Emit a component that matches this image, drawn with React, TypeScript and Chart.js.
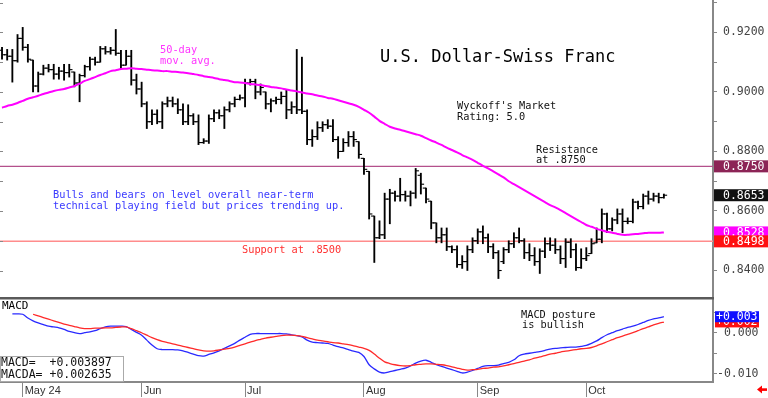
import React, { useEffect, useRef } from 'react';
import { Chart, registerables } from 'chart.js';

Chart.register(...registerables);

const MONO = '"DejaVu Sans Mono", monospace';
const SANS = '"Liberation Sans", Arial, sans-serif';

// ---- OHLC (daily bars, index 0 = late April 2024) ----
const highs = [
  0.9150, 0.9143, 0.9143, 0.9193, 0.9217, 0.9160, 0.9107, 0.9067, 0.9090, 0.9093,
  0.9093, 0.9083, 0.9093, 0.9093, 0.9067, 0.9060, 0.9090, 0.9117, 0.9117, 0.9153,
  0.9153, 0.9150, 0.9210, 0.9140, 0.9140, 0.9140, 0.9060, 0.9033, 0.8967, 0.8940,
  0.8940, 0.8967, 0.8983, 0.8983, 0.8977, 0.8960, 0.8957, 0.8927, 0.8923, 0.8843,
  0.8923, 0.8940, 0.8940, 0.8950, 0.8967, 0.8983, 0.8990, 0.9043, 0.9043, 0.9043,
  0.9027, 0.9000, 0.8977, 0.8983, 0.9000, 0.9007, 0.8967, 0.9143, 0.9117, 0.8940,
  0.8873, 0.8900, 0.8900, 0.8907, 0.8907, 0.8850, 0.8843, 0.8867, 0.8867, 0.8833,
  0.8777, 0.8733, 0.8583, 0.8567, 0.8660, 0.8673, 0.8667, 0.8710, 0.8667, 0.8667,
  0.8743, 0.8727, 0.8677, 0.8633, 0.8560, 0.8543, 0.8543, 0.8483, 0.8483, 0.8450,
  0.8483, 0.8510, 0.8540, 0.8550, 0.8523, 0.8490, 0.8467, 0.8477, 0.8500, 0.8527,
  0.8543, 0.8507, 0.8490, 0.8477, 0.8473, 0.8510, 0.8510, 0.8507, 0.8483, 0.8507,
  0.8507, 0.8490, 0.8473, 0.8477, 0.8507, 0.8543, 0.8607, 0.8593, 0.8577, 0.8607,
  0.8607, 0.8577, 0.8640, 0.8633, 0.8657, 0.8667, 0.8660, 0.8660, 0.8657,
];
const lows = [
  0.9110, 0.9107, 0.9033, 0.9100, 0.9140, 0.9100, 0.9000, 0.9000, 0.9057, 0.9067,
  0.9043, 0.9043, 0.9040, 0.9050, 0.9017, 0.8967, 0.9050, 0.9073, 0.9090, 0.9100,
  0.9127, 0.9127, 0.9123, 0.9077, 0.9090, 0.9023, 0.8993, 0.8950, 0.8877, 0.8890,
  0.8893, 0.8877, 0.8950, 0.8950, 0.8927, 0.8890, 0.8890, 0.8890, 0.8823, 0.8827,
  0.8827, 0.8900, 0.8910, 0.8877, 0.8933, 0.8950, 0.8973, 0.8950, 0.9023, 0.8977,
  0.8990, 0.8943, 0.8933, 0.8960, 0.8960, 0.8910, 0.8927, 0.8927, 0.8927, 0.8823,
  0.8817, 0.8840, 0.8867, 0.8877, 0.8833, 0.8777, 0.8800, 0.8817, 0.8817, 0.8777,
  0.8723, 0.8573, 0.8427, 0.8507, 0.8507, 0.8557, 0.8633, 0.8633, 0.8633, 0.8617,
  0.8643, 0.8657, 0.8627, 0.8540, 0.8493, 0.8493, 0.8467, 0.8460, 0.8410, 0.8407,
  0.8400, 0.8460, 0.8490, 0.8490, 0.8460, 0.8440, 0.8373, 0.8423, 0.8460, 0.8477,
  0.8493, 0.8440, 0.8433, 0.8417, 0.8390, 0.8443, 0.8467, 0.8457, 0.8423, 0.8410,
  0.8443, 0.8400, 0.8407, 0.8433, 0.8457, 0.8493, 0.8493, 0.8527, 0.8533, 0.8557,
  0.8527, 0.8557, 0.8560, 0.8607, 0.8607, 0.8623, 0.8633, 0.8627, 0.8643,
];
const opens = [
  0.9140, 0.9125, 0.9120, 0.9105, 0.9180, 0.9150, 0.9107, 0.9020, 0.9060, 0.9080,
  0.9075, 0.9060, 0.9070, 0.9065, 0.9067, 0.9030, 0.9055, 0.9085, 0.9110, 0.9100,
  0.9145, 0.9135, 0.9140, 0.9130, 0.9090, 0.9120, 0.9040, 0.9010, 0.8960, 0.8900,
  0.8925, 0.8900, 0.8960, 0.8970, 0.8960, 0.8940, 0.8900, 0.8920, 0.8900, 0.8830,
  0.8835, 0.8910, 0.8930, 0.8920, 0.8940, 0.8960, 0.8975, 0.8980, 0.9030, 0.9035,
  0.9000, 0.9000, 0.8960, 0.8970, 0.8975, 0.8985, 0.8940, 0.8950, 0.8940, 0.8935,
  0.8840, 0.8850, 0.8880, 0.8890, 0.8885, 0.8840, 0.8800, 0.8830, 0.8850, 0.8833,
  0.8777, 0.8733, 0.8583, 0.8510, 0.8520, 0.8640, 0.8660, 0.8650, 0.8655, 0.8650,
  0.8660, 0.8720, 0.8677, 0.8633, 0.8560, 0.8510, 0.8520, 0.8480, 0.8470, 0.8420,
  0.8430, 0.8470, 0.8500, 0.8530, 0.8510, 0.8480, 0.8460, 0.8430, 0.8470, 0.8490,
  0.8510, 0.8500, 0.8460, 0.8450, 0.8430, 0.8465, 0.8490, 0.8485, 0.8470, 0.8440,
  0.8495, 0.8470, 0.8410, 0.8440, 0.8457, 0.8493, 0.8505, 0.8590, 0.8540, 0.8570,
  0.8590, 0.8565, 0.8565, 0.8630, 0.8615, 0.8650, 0.8640, 0.8650, 0.8645,
];
const closes = [
  0.9125, 0.9120, 0.9105, 0.9180, 0.9150, 0.9110, 0.9020, 0.9060, 0.9080, 0.9075,
  0.9060, 0.9070, 0.9065, 0.9075, 0.9030, 0.9055, 0.9085, 0.9110, 0.9100, 0.9145,
  0.9135, 0.9140, 0.9130, 0.9090, 0.9120, 0.9040, 0.9010, 0.8960, 0.8900, 0.8925,
  0.8900, 0.8960, 0.8970, 0.8960, 0.8940, 0.8900, 0.8920, 0.8900, 0.8830, 0.8835,
  0.8910, 0.8930, 0.8920, 0.8940, 0.8960, 0.8975, 0.8980, 0.9030, 0.9035, 0.9000,
  0.9015, 0.8960, 0.8970, 0.8975, 0.8985, 0.8940, 0.8950, 0.8940, 0.8935, 0.8840,
  0.8850, 0.8880, 0.8890, 0.8885, 0.8840, 0.8800, 0.8830, 0.8850, 0.8840, 0.8790,
  0.8740, 0.8590, 0.8510, 0.8520, 0.8640, 0.8660, 0.8650, 0.8655, 0.8650, 0.8660,
  0.8735, 0.8690, 0.8640, 0.8560, 0.8510, 0.8520, 0.8480, 0.8470, 0.8420, 0.8430,
  0.8470, 0.8500, 0.8530, 0.8510, 0.8480, 0.8460, 0.8400, 0.8470, 0.8490, 0.8510,
  0.8500, 0.8460, 0.8450, 0.8430, 0.8465, 0.8490, 0.8485, 0.8470, 0.8440, 0.8495,
  0.8470, 0.8410, 0.8440, 0.8450, 0.8490, 0.8505, 0.8590, 0.8540, 0.8570, 0.8590,
  0.8565, 0.8565, 0.8630, 0.8615, 0.8650, 0.8640, 0.8650, 0.8645, 0.8653,
];

// ---- 50-day moving average ----
const ma50 = [
  0.8947, 0.8953, 0.8957, 0.8963, 0.8970, 0.8977, 0.8982, 0.8987, 0.8993, 0.8998,
  0.9003, 0.9007, 0.9010, 0.9015, 0.9020, 0.9028, 0.9037, 0.9043, 0.9050, 0.9057,
  0.9063, 0.9070, 0.9073, 0.9077, 0.9078, 0.9080, 0.9078, 0.9077, 0.9075, 0.9073,
  0.9072, 0.9070, 0.9070, 0.9068, 0.9067, 0.9065, 0.9063, 0.9060, 0.9057, 0.9053,
  0.9050, 0.9047, 0.9043, 0.9040, 0.9037, 0.9033, 0.9032, 0.9030, 0.9027, 0.9025,
  0.9023, 0.9020, 0.9017, 0.9015, 0.9012, 0.9008, 0.9005, 0.9002, 0.8998, 0.8995,
  0.8992, 0.8988, 0.8985, 0.8980, 0.8977, 0.8972, 0.8967, 0.8962, 0.8957, 0.8950,
  0.8940, 0.8930, 0.8917, 0.8903, 0.8893, 0.8883, 0.8877, 0.8873, 0.8868, 0.8863,
  0.8858, 0.8853, 0.8845, 0.8837, 0.8830, 0.8822, 0.8813, 0.8805, 0.8797, 0.8788,
  0.8780, 0.8772, 0.8762, 0.8752, 0.8743, 0.8733, 0.8723, 0.8713, 0.8700, 0.8690,
  0.8680, 0.8670, 0.8660, 0.8650, 0.8640, 0.8630, 0.8620, 0.8612, 0.8603, 0.8593,
  0.8583, 0.8573, 0.8563, 0.8553, 0.8547, 0.8540, 0.8535, 0.8530, 0.8527, 0.8523,
  0.8520, 0.8520, 0.8522, 0.8523, 0.8525, 0.8527, 0.8527, 0.8527, 0.8528,
];

// ---- MACD (blue) and MACDA signal (red) ----
const macdLine = [
  null, null, 0.0046, 0.0046, 0.0045, 0.0036, 0.0029, 0.0024, 0.0020, 0.0016,
  0.0014, 0.0012, 0.0008, 0.0003, 0.0000, -0.0002, 0.0000, 0.0002, 0.0005, 0.0010,
  0.0014, 0.0016, 0.0016, 0.0016, 0.0015, 0.0008, 0.0001, -0.0006, -0.0018, -0.0030,
  -0.0039, -0.0041, -0.0041, -0.0041, -0.0042, -0.0044, -0.0048, -0.0052, -0.0056, -0.0057,
  -0.0053, -0.0049, -0.0044, -0.0038, -0.0032, -0.0026, -0.0018, -0.0011, -0.0004, -0.0002,
  -0.0002, -0.0002, -0.0002, -0.0002, -0.0002, -0.0003, -0.0005, -0.0007, -0.0010, -0.0018,
  -0.0023, -0.0024, -0.0025, -0.0026, -0.0030, -0.0034, -0.0037, -0.0041, -0.0045, -0.0048,
  -0.0058, -0.0078, -0.0088, -0.0096, -0.0098, -0.0095, -0.0092, -0.0089, -0.0086, -0.0081,
  -0.0074, -0.0069, -0.0067, -0.0072, -0.0078, -0.0082, -0.0086, -0.0090, -0.0094, -0.0098,
  -0.0096, -0.0092, -0.0087, -0.0082, -0.0080, -0.0080, -0.0079, -0.0075, -0.0072, -0.0066,
  -0.0056, -0.0052, -0.0050, -0.0048, -0.0046, -0.0043, -0.0040, -0.0038, -0.0037, -0.0036,
  -0.0035, -0.0035, -0.0033, -0.0031, -0.0026, -0.0020, -0.0012, -0.0005, 0.0000, 0.0005,
  0.0009, 0.0013, 0.0016, 0.0020, 0.0025, 0.0030, 0.0034, 0.0036, 0.0039,
];
const macdSignal = [
  null, null, null, null, null, null, 0.0045, 0.0041, 0.0037, 0.0033,
  0.0029, 0.0025, 0.0021, 0.0018, 0.0015, 0.0012, 0.0010, 0.0010, 0.0011, 0.0011,
  0.0012, 0.0012, 0.0013, 0.0014, 0.0014, 0.0010, 0.0005, 0.0000, -0.0006, -0.0012,
  -0.0017, -0.0021, -0.0024, -0.0027, -0.0030, -0.0033, -0.0036, -0.0039, -0.0042, -0.0044,
  -0.0045, -0.0044, -0.0042, -0.0040, -0.0038, -0.0035, -0.0031, -0.0027, -0.0023, -0.0019,
  -0.0016, -0.0013, -0.0011, -0.0009, -0.0007, -0.0006, -0.0006, -0.0007, -0.0009, -0.0012,
  -0.0015, -0.0018, -0.0020, -0.0022, -0.0024, -0.0025, -0.0027, -0.0029, -0.0032, -0.0035,
  -0.0038, -0.0043, -0.0052, -0.0062, -0.0071, -0.0075, -0.0078, -0.0080, -0.0081, -0.0080,
  -0.0078, -0.0077, -0.0076, -0.0076, -0.0077, -0.0078, -0.0080, -0.0083, -0.0086, -0.0089,
  -0.0091, -0.0090, -0.0089, -0.0087, -0.0086, -0.0084, -0.0083, -0.0081, -0.0078, -0.0075,
  -0.0072, -0.0069, -0.0066, -0.0062, -0.0059, -0.0056, -0.0052, -0.0050, -0.0047, -0.0045,
  -0.0043, -0.0041, -0.0039, -0.0038, -0.0036, -0.0032, -0.0027, -0.0022, -0.0017, -0.0012,
  -0.0008, -0.0004, 0.0000, 0.0005, 0.0010, 0.0014, 0.0019, 0.0023, 0.0026,
];

// ---- axes / levels ----
const monthTickIdx = [4, 27, 47, 70, 92, 113];
const monthLabels = ['May 24', 'Jun', 'Jul', 'Aug', 'Sep', 'Oct'];
const priceTickValues = [0.84, 0.85, 0.86, 0.87, 0.88, 0.89, 0.90, 0.91, 0.92, 0.93];
const priceLabelValues = [0.84, 0.86, 0.88, 0.90, 0.92];
const macdTickValues = [0.005, 0, -0.005, -0.01];
const macdLabelValues = [0, -0.01];

const resistanceLevel = 0.875;
const supportLevel = 0.8498;
const lastClose = 0.8653;
const lastMA = 0.8528;
const macdLast = 0.003897;
const macdaLast = 0.002635;

const X_MIN = -0.39;
const X_MAX = 137.5;
const PRICE_MIN = 0.8311;
const PRICE_MAX = 0.9309;
const MACD_MIN = -0.0120;
const MACD_MAX = 0.0087;
const AXIS_W = 55;
const PLOT_RIGHT = 713;

const near = (a: number, b: number) => Math.abs(a - b) < 1e-7;

// pins the plot area so that both panes share exactly the same frame
const pinArea = (top: number, bottom: number, xAxisH: number) => ({
  id: 'pinArea',
  afterLayout(chart: any) {
    const ca = chart.chartArea;
    ca.left = 0;
    ca.right = PLOT_RIGHT;
    ca.top = top;
    ca.bottom = bottom;
    ca.width = PLOT_RIGHT;
    ca.height = bottom - top;
    const y = chart.scales.y;
    y.top = top;
    y.bottom = bottom;
    y.height = bottom - top;
    y.left = PLOT_RIGHT;
    y.right = PLOT_RIGHT + AXIS_W;
    y.width = AXIS_W;
    y.configure();
    const x = chart.scales.x;
    x.left = 0;
    x.right = PLOT_RIGHT;
    x.width = PLOT_RIGHT;
    if (xAxisH > 0) {
      x.top = bottom;
      x.bottom = bottom + xAxisH;
      x.height = xAxisH;
    } else {
      x.top = top;
      x.bottom = bottom;
      x.height = 0;
    }
    x.configure();
  },
});

export default function App() {
  const topRef = useRef<HTMLCanvasElement>(null);
  const botRef = useRef<HTMLCanvasElement>(null);

  useEffect(() => {
    document.body.style.margin = '0';
    Chart.defaults.font.family = MONO;
    const idx = highs.map((_, i) => i);

    const topPlugin = {
      id: 'topDecor',
      afterDraw(chart: any) {
        const { ctx } = chart;
        const ys = chart.scales.y;
        ctx.save();
        // left edge ticks
        ctx.strokeStyle = '#888';
        ctx.lineWidth = 1;
        priceTickValues.forEach((v) => {
          const py = Math.round(ys.getPixelForValue(v)) + 0.5;
          ctx.beginPath();
          ctx.moveTo(0, py);
          ctx.lineTo(3, py);
          ctx.stroke();
        });
        // value tags
        const tag = (v: number, bg: string) => {
          const py = ys.getPixelForValue(v);
          ctx.fillStyle = bg;
          ctx.fillRect(714, py - 6, 54, 12);
          ctx.fillStyle = '#fff';
          ctx.font = `11.5px ${MONO}`;
          ctx.textAlign = 'left';
          ctx.textBaseline = 'middle';
          ctx.fillText(v.toFixed(4), 723, py + 0.5);
        };
        tag(resistanceLevel, '#8c2456');
        tag(lastClose, '#111');
        tag(lastMA, '#ff00ff');
        tag(supportLevel, '#ff1010');
        // annotations
        ctx.textAlign = 'left';
        ctx.textBaseline = 'middle';
        ctx.fillStyle = '#000';
        ctx.font = `17px ${MONO}`;
        ctx.fillText('U.S. Dollar-Swiss Franc', 380, 58);
        ctx.font = `10.3px ${MONO}`;
        ctx.fillStyle = '#ff33ff';
        ctx.fillText('50-day', 160, 50);
        ctx.fillText('mov. avg.', 160, 61);
        ctx.fillStyle = '#111';
        ctx.fillText("Wyckoff's Market", 457, 106);
        ctx.fillText('Rating: 5.0', 457, 117);
        ctx.fillText('Resistance', 536, 150);
        ctx.fillText('at .8750', 536, 160);
        ctx.fillStyle = '#3a3aff';
        ctx.fillText('Bulls and bears on level overall near-term', 53, 195);
        ctx.fillText('technical playing field but prices trending up.', 53, 206);
        ctx.fillStyle = '#ff3030';
        ctx.fillText('Support at .8500', 242, 250);
        ctx.restore();
      },
    };

    const botPlugin = {
      id: 'botDecor',
      afterDraw(chart: any) {
        const { ctx } = chart;
        const ys = chart.scales.y;
        ctx.save();
        // pane separator
        ctx.fillStyle = '#5a5a5a';
        ctx.fillRect(0, 0, 714, 2.5);
        ctx.textAlign = 'left';
        ctx.textBaseline = 'middle';
        ctx.fillStyle = '#000';
        ctx.font = `11px ${MONO}`;
        ctx.fillText('MACD', 2, 9);
        ctx.font = `10.3px ${MONO}`;
        ctx.fillStyle = '#111';
        ctx.fillText('MACD posture', 521, 18);
        ctx.fillText('is bullish', 522, 28);
        // value box
        ctx.fillStyle = '#fff';
        ctx.fillRect(0.5, 59.5, 123, 25);
        ctx.strokeStyle = '#aaa';
        ctx.lineWidth = 1;
        ctx.strokeRect(0.5, 59.5, 123, 25);
        ctx.fillStyle = '#111';
        ctx.font = `11.5px ${MONO}`;
        ctx.fillText(`MACD=  +${macdLast.toFixed(6)}`, 1, 66);
        ctx.fillText(`MACDA= +${macdaLast.toFixed(6)}`, 1, 78);
        // tags
        const tag = (v: number, bg: string) => {
          const py = ys.getPixelForValue(v);
          ctx.fillStyle = bg;
          ctx.fillRect(715, py - 5.5, 44, 11);
          ctx.fillStyle = '#fff';
          ctx.font = `11.5px ${MONO}`;
          ctx.fillText('+' + (Math.floor(v * 1000) / 1000).toFixed(3), 716, py + 0.5);
        };
        tag(macdaLast, '#ff1010');
        tag(macdLast, '#1010ff');
        // red arrow
        ctx.fillStyle = '#ff0000';
        ctx.beginPath();
        ctx.moveTo(757, 92.5);
        ctx.lineTo(762, 88.5);
        ctx.lineTo(762, 96.5);
        ctx.closePath();
        ctx.fill();
        ctx.fillRect(761, 91.3, 6, 2.6);
        ctx.restore();
      },
    };

    const top = new Chart(topRef.current as HTMLCanvasElement, {
      type: 'bar',
      data: {
        datasets: [
          {
            type: 'line',
            data: [{ x: X_MIN, y: resistanceLevel }, { x: X_MAX, y: resistanceLevel }],
            borderColor: '#b4508c',
            borderWidth: 1.2,
            pointRadius: 0,
            order: 6,
          } as any,
          {
            type: 'line',
            data: [{ x: X_MIN, y: supportLevel }, { x: X_MAX, y: supportLevel }],
            borderColor: '#ff8c8c',
            borderWidth: 1.5,
            pointRadius: 0,
            order: 6,
          } as any,
          {
            type: 'bar',
            data: idx.map((i) => ({ x: i, y: [lows[i], highs[i]] })),
            backgroundColor: '#000',
            barThickness: 1.2,
            order: 3,
          } as any,
          {
            type: 'line',
            data: idx.map((i) => ({ x: i - 0.32, y: opens[i] })),
            showLine: false,
            pointStyle: 'line',
            pointRadius: 1.6,
            pointBorderWidth: 1.1,
            pointBorderColor: '#000',
            pointBackgroundColor: '#000',
            order: 2,
          } as any,
          {
            type: 'line',
            data: idx.map((i) => ({ x: i + 0.32, y: closes[i] })),
            showLine: false,
            pointStyle: 'line',
            pointRadius: 1.6,
            pointBorderWidth: 1.1,
            pointBorderColor: '#000',
            pointBackgroundColor: '#000',
            order: 2,
          } as any,
          {
            type: 'line',
            data: idx.map((i) => ({ x: i, y: ma50[i] })),
            borderColor: '#ff00ff',
            borderWidth: 2,
            pointRadius: 0,
            tension: 0.3,
            order: 0,
          } as any,
        ],
      },
      options: {
        animation: false,
        responsive: false,
        maintainAspectRatio: false,
        layout: { padding: 0 },
        plugins: { legend: { display: false }, tooltip: { enabled: false } },
        scales: {
          x: {
            type: 'linear',
            min: X_MIN,
            max: X_MAX,
            offset: false,
            display: false,
            grid: { offset: false },
          },
          y: {
            position: 'right',
            min: PRICE_MIN,
            max: PRICE_MAX,
            afterBuildTicks: (s: any) => {
              s.ticks = priceTickValues.map((v) => ({ value: v }));
            },
            ticks: {
              callback: (v: any) => (priceLabelValues.some((p) => near(p, v)) ? Number(v).toFixed(4) : ''),
              color: '#444',
              font: { family: MONO, size: 11.5 },
              padding: 6,
              autoSkip: false,
            },
            grid: { drawOnChartArea: false, tickLength: 4, color: '#888' },
            border: { color: '#888', width: 2 },
            afterFit: (s: any) => {
              s.width = AXIS_W;
              s.paddingTop = 0;
              s.paddingBottom = 0;
            },
          },
        },
      } as any,
      plugins: [pinArea(0, 297, 0), topPlugin],
    });

    const bot = new Chart(botRef.current as HTMLCanvasElement, {
      type: 'line',
      data: {
        datasets: [
          {
            data: idx.filter((i) => macdSignal[i] !== null).map((i) => ({ x: i, y: macdSignal[i] })),
            borderColor: '#ff2a2a',
            borderWidth: 1.3,
            pointRadius: 0,
            tension: 0.3,
          },
          {
            data: idx.filter((i) => macdLine[i] !== null).map((i) => ({ x: i, y: macdLine[i] })),
            borderColor: '#2a2aff',
            borderWidth: 1.3,
            pointRadius: 0,
            tension: 0.3,
          },
        ],
      },
      options: {
        animation: false,
        responsive: false,
        maintainAspectRatio: false,
        layout: { padding: 0 },
        plugins: { legend: { display: false }, tooltip: { enabled: false } },
        scales: {
          x: {
            type: 'linear',
            min: X_MIN,
            max: X_MAX,
            offset: false,
            afterBuildTicks: (s: any) => {
              s.ticks = monthTickIdx.map((v) => ({ value: v }));
            },
            ticks: {
              callback: (v: any) => {
                const k = monthTickIdx.indexOf(Number(v));
                return k >= 0 ? monthLabels[k] : '';
              },
              align: 'start',
              labelOffset: 2,
              padding: -13,
              maxRotation: 0,
              autoSkip: false,
              color: '#333',
              font: { family: SANS, size: 11 },
            },
            grid: { drawOnChartArea: false, tickLength: 15, color: '#888', offset: false },
            border: { color: '#888', width: 2 },
            afterFit: (s: any) => {
              s.height = 16;
              s.paddingLeft = 0;
              s.paddingRight = 0;
            },
          },
          y: {
            position: 'right',
            min: MACD_MIN,
            max: MACD_MAX,
            afterBuildTicks: (s: any) => {
              s.ticks = macdTickValues.map((v) => ({ value: v }));
            },
            ticks: {
              callback: (v: any) => {
                if (!macdLabelValues.some((p) => near(p, v))) return '';
                return near(v, 0) ? ' 0.000' : Number(v).toFixed(3);
              },
              color: '#444',
              font: { family: MONO, size: 11.5 },
              padding: 0,
              autoSkip: false,
            },
            grid: { drawOnChartArea: false, tickLength: 4, color: '#888' },
            border: { color: '#888', width: 2 },
            afterFit: (s: any) => {
              s.width = AXIS_W;
              s.paddingTop = 0;
              s.paddingBottom = 0;
            },
          },
        },
      } as any,
      plugins: [pinArea(0, 85, 16), botPlugin],
    });

    return () => {
      top.destroy();
      bot.destroy();
    };
  }, []);

  return (
    <div style={{ width: 768, height: 398, background: '#fff', overflow: 'hidden' }}>
      <canvas ref={topRef} width={768} height={297} style={{ display: 'block' }} />
      <canvas ref={botRef} width={768} height={101} style={{ display: 'block' }} />
    </div>
  );
}
